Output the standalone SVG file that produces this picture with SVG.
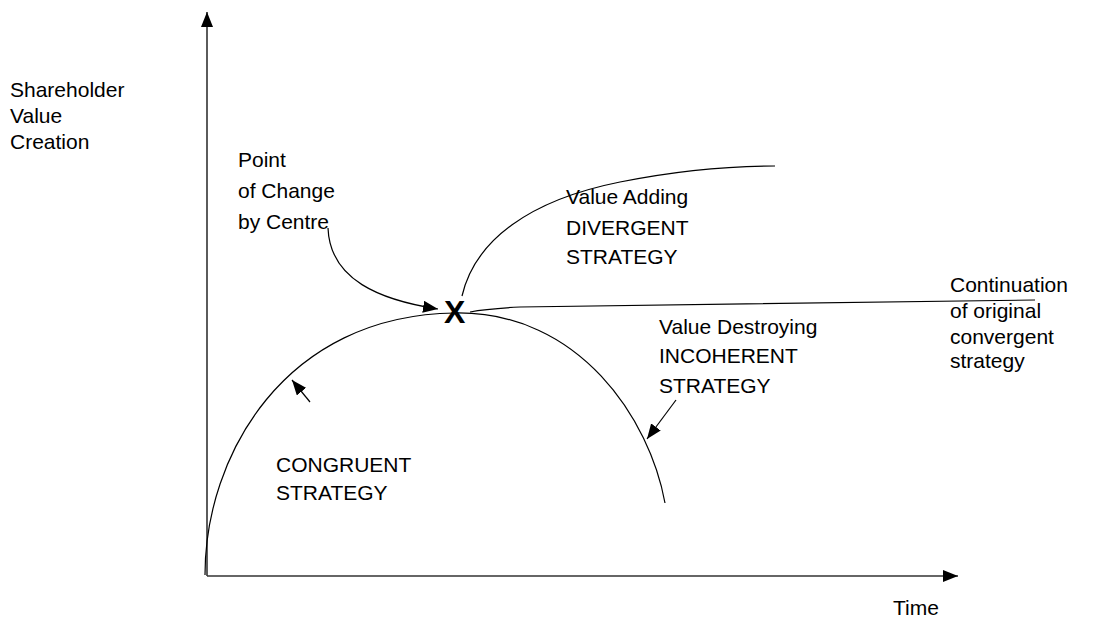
<svg xmlns="http://www.w3.org/2000/svg" width="1104" height="623" viewBox="0 0 1104 623">
<style>
text{font-family:"Liberation Sans",Arial,sans-serif;font-size:21px;fill:#000}
.ax{stroke:#333;stroke-width:1.6;fill:none}
.cv{stroke:#000;stroke-width:1.2;fill:none}
.big{font-size:32px;font-weight:bold}
</style>
<defs>
<marker id="ah" markerWidth="15" markerHeight="12" refX="15" refY="6" orient="auto" markerUnits="userSpaceOnUse">
<path d="M0,0 L15,6 L0,12 Z" fill="#000"/>
</marker>
</defs>
<g id="axes">
<line class="ax" x1="207" y1="576" x2="207" y2="12" marker-end="url(#ah)"/>
<line class="ax" x1="207" y1="576" x2="958" y2="576" marker-end="url(#ah)"/>
</g>
<g id="connectors">
<path class="cv" d="M205,575 C205,455 285,315 455,313 C580,311 650,420 665,503"/>
<path class="cv" d="M462,296 C475,240 530,200 620,182 C680,170 730,166 775,166"/>
<path class="cv" d="M470,312 C485,309 500,308 520,307 L1035,300"/>
<path class="cv" d="M328,228 C330,280 380,300 438,309" marker-end="url(#ah)"/>
<path class="cv" d="M310,402 L292,380" marker-end="url(#ah)"/>
<path class="cv" d="M676,400 L647,439" marker-end="url(#ah)"/>
</g>
<g id="y-label"><text x="10" y="97">Shareholder</text><text x="10" y="123">Value</text><text x="10" y="149">Creation</text></g>
<g id="point-label"><text x="238" y="167">Point</text><text x="238" y="198">of Change</text><text x="238" y="229">by Centre</text></g>
<g id="divergent"><text x="566" y="204">Value Adding</text><text x="566" y="235">DIVERGENT</text><text x="566" y="264">STRATEGY</text></g>
<g id="incoherent"><text x="659" y="334">Value Destroying</text><text x="659" y="363">INCOHERENT</text><text x="659" y="393">STRATEGY</text></g>
<g id="continuation"><text x="950" y="292">Continuation</text><text x="950" y="318">of original</text><text x="950" y="344">convergent</text><text x="950" y="368">strategy</text></g>
<g id="congruent"><text x="276" y="472">CONGRUENT</text><text x="276" y="500">STRATEGY</text></g>
<g id="x-label"><text x="893" y="615">Time</text></g>
<g id="point-x"><text class="big" x="444" y="323">X</text></g>
</svg>
